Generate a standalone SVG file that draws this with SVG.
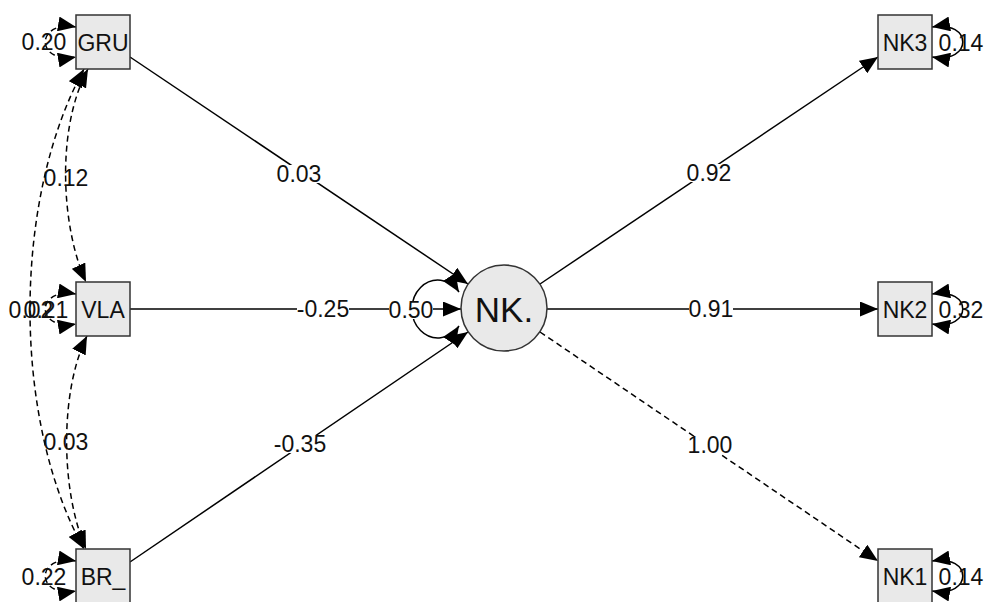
<svg xmlns="http://www.w3.org/2000/svg" width="988" height="602" viewBox="0 0 988 602">
<style>
.box{fill:#e9e9e9;stroke:#333;stroke-width:1.5}
.e{fill:none;stroke:#000;stroke-width:1.5}
.d{stroke-dasharray:6,4}
.t{font-family:"Liberation Sans",Arial,sans-serif;font-size:23px;fill:#111;text-anchor:middle;dominant-baseline:central}
.big{font-size:35px}
.bg{fill:#fff}
</style>
<defs>
<marker id="a" markerUnits="userSpaceOnUse" markerWidth="18" markerHeight="15" refX="18" refY="7.5" orient="auto-start-reverse">
<path d="M0,0 L18,7.5 L0,15 z" fill="#000"/>
</marker>
</defs>
<rect width="988" height="602" fill="#fff"/>
<g id="connectors">
<line class="e" x1="130" y1="57" x2="468" y2="284" marker-end="url(#a)"/>
<line class="e" x1="130" y1="309" x2="461" y2="309" marker-end="url(#a)"/>
<line class="e" x1="130" y1="562" x2="468" y2="332" marker-end="url(#a)"/>
<line class="e" x1="540" y1="284" x2="878" y2="57" marker-end="url(#a)"/>
<line class="e" x1="547" y1="309" x2="878" y2="309" marker-end="url(#a)"/>
<line class="e d" x1="540" y1="332" x2="878" y2="561" marker-end="url(#a)"/>
<path class="e" d="M459,292 A26,29 0 1 0 459,326" marker-start="url(#a)" marker-end="url(#a)"/>
<path class="e d" d="M88,69 C55,130 62,230 86,282" marker-start="url(#a)" marker-end="url(#a)"/>
<path class="e d" d="M84,69 C12,200 12,420 84,549" marker-start="url(#a)" marker-end="url(#a)"/>
<path class="e d" d="M87,336 C60,390 60,490 86,549" marker-start="url(#a)" marker-end="url(#a)"/>
<path class="e d" d="M76,27 C35,20 35,64 76,57" marker-start="url(#a)" marker-end="url(#a)"/>
<path class="e d" d="M76,294 C35,287 35,331 76,324" marker-start="url(#a)" marker-end="url(#a)"/>
<path class="e d" d="M76,561 C35,554 35,598 76,591" marker-start="url(#a)" marker-end="url(#a)"/>
<path class="e" d="M932,27 C973,20 973,64 932,57" marker-start="url(#a)" marker-end="url(#a)"/>
<path class="e" d="M932,294 C973,287 973,331 932,324" marker-start="url(#a)" marker-end="url(#a)"/>
<path class="e" d="M932,561 C973,554 973,598 932,591" marker-start="url(#a)" marker-end="url(#a)"/>
<rect class="bg" x="277" y="165" width="44" height="18"/>
<text class="t" x="299" y="174">0.03</text>
<rect class="bg" x="297" y="300" width="52" height="18"/>
<text class="t" x="323" y="309">-0.25</text>
<rect class="bg" x="274" y="435" width="52" height="18"/>
<text class="t" x="300" y="444">-0.35</text>
<rect class="bg" x="389" y="301" width="44" height="18"/>
<text class="t" x="411" y="310">0.50</text>
<rect class="bg" x="687" y="164" width="44" height="18"/>
<text class="t" x="709" y="173">0.92</text>
<rect class="bg" x="689" y="300" width="44" height="18"/>
<text class="t" x="711" y="309">0.91</text>
<rect class="bg" x="688" y="436" width="44" height="18"/>
<text class="t" x="710" y="445">1.00</text>
<text class="t" x="66" y="178">0.12</text>
<text class="t" x="31" y="310">0.02</text>
<text class="t" x="46" y="310">0.21</text>
<text class="t" x="66" y="442">0.03</text>
<text class="t" x="44" y="42">0.20</text>
<text class="t" x="44" y="577">0.22</text>
<text class="t" x="961" y="43">0.14</text>
<text class="t" x="961" y="310">0.32</text>
<text class="t" x="961" y="577">0.14</text>
</g>
<g id="GRU"><rect class="box" x="76" y="15" width="54" height="54"/><text class="t" x="103" y="43">GRU</text></g>
<g id="VLA"><rect class="box" x="76" y="282" width="54" height="54"/><text class="t" x="103" y="310">VLA</text></g>
<g id="BR_"><rect class="box" x="76" y="549" width="54" height="54"/><text class="t" x="103" y="577">BR_</text></g>
<g id="NK."><circle class="box" cx="504" cy="308" r="43"/><text class="t big" x="504" y="309">NK.</text></g>
<g id="NK3"><rect class="box" x="878" y="15" width="54" height="54"/><text class="t" x="905" y="43">NK3</text></g>
<g id="NK2"><rect class="box" x="878" y="282" width="54" height="54"/><text class="t" x="905" y="310">NK2</text></g>
<g id="NK1"><rect class="box" x="878" y="549" width="54" height="54"/><text class="t" x="905" y="577">NK1</text></g>
</svg>
